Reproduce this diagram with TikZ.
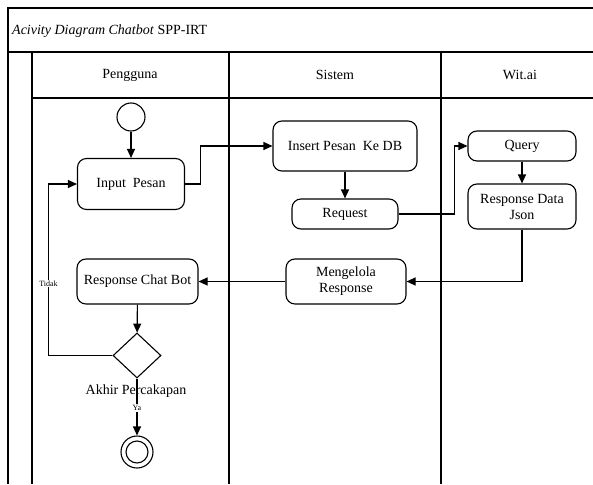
\documentclass[tikz,border=0pt]{standalone}
\usepackage{fontspec}
\setmainfont{Liberation Serif}
\usetikzlibrary{arrows.meta,shapes.geometric}
\begin{document}
\begin{tikzpicture}[x=1pt,y=-1pt,
  txt/.style={font=\fontsize{14}{16}\selectfont,align=center,inner sep=0pt},
  act/.style={txt,draw,rounded corners=9pt,line width=1.1pt},
  flow/.style={line width=1.1pt,-{Triangle[length=9pt,width=8pt]}},
  lane/.style={line width=1.3pt},
  guard/.style={font=\fontsize{8}{9}\selectfont,fill=white,inner sep=1pt}]
\useasboundingbox (0,0) rectangle (593,484);

% swimlane frame
\draw[lane] (593,8) -- (8,8) -- (8,484);
\draw[lane] (8,52) -- (593,52);
\draw[lane] (32,52) -- (32,484);
\draw[lane] (32,98) -- (593,98);
\draw[lane] (229,52) -- (229,484);
\draw[lane] (441,52) -- (441,484);

% title and lane headers
\node[txt,anchor=west] (title) at (12,31) {\itshape Acivity Diagram Chatbot\/\upshape{} SPP-IRT};
\node[txt] (h1) at (130,75) {Pengguna};
\node[txt] (h2) at (335,75) {Sistem};
\node[txt] (h3) at (520,75) {Wit.ai};

% activities
\node[draw,circle,line width=1.1pt,minimum size=28pt,inner sep=0pt] (start) at (131,117) {};
\node[act,minimum width=107pt,minimum height=51pt] (inp) at (131,184) {Input\ \ Pesan};
\node[act,minimum width=144pt,minimum height=50pt] (ins) at (345,146) {Insert Pesan\ \ Ke DB};
\node[act,minimum width=106pt,minimum height=30pt] (req) at (345,214) {Request};
\node[act,minimum width=108pt,minimum height=30pt] (qry) at (522,146) {Query};
\node[act,minimum width=108pt,minimum height=45pt] (rdj) at (522,206.5) {Response Data\\Json};
\node[act,minimum width=120pt,minimum height=45pt] (meng) at (346,281.5) {Mengelola\\Response};
\node[act,minimum width=121pt,minimum height=45pt] (rcb) at (137.5,281.5) {Response Chat Bot};
\node[draw,diamond,line width=1.1pt,minimum width=48pt,minimum height=45pt,inner sep=0pt] (dec) at (137,355.5) {};
\node[txt] (akhir) at (136,391) {Akhir Percakapan};
\node[draw,circle,line width=1.1pt,minimum size=32pt,inner sep=0pt] (end) at (137,452) {};
\draw[line width=1.1pt] (end.center) circle[radius=11pt];

% control flow
\draw[flow] (start) -- (inp);
\draw[flow] (inp.east) -- ++(15,0) |- (ins.west);
\draw[flow] (ins) -- (req);
\draw[flow] (req.east) -- ++(56,0) |- (qry.west);
\draw[flow] (qry) -- (rdj);
\draw[flow] (rdj.south) |- (meng.east);
\draw[flow] (meng) -- (rcb);
\draw[flow] (rcb) -- (dec);
\draw[flow] (dec.west) -- ++(-64,0) |- node[guard,pos=0.21] {Tidak} (inp.west);
\draw[flow] (dec) -- node[guard,pos=0.52] {Ya} (end);
\end{tikzpicture}
\end{document}
